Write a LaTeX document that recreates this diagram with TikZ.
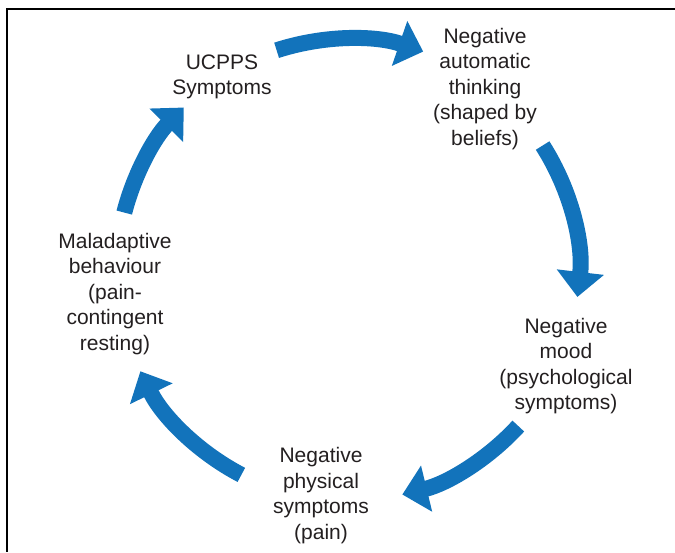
\documentclass[tikz,border=0pt]{standalone}
\usepackage{fontspec}
\setmainfont{Liberation Sans}
\usetikzlibrary{arrows.meta}
\definecolor{cycb}{RGB}{18, 115, 187}
\definecolor{txtk}{RGB}{35, 31, 32}

\begin{document}
\begin{tikzpicture}[x=1pt, y=1pt,
        every node/.style={font=\fontsize{21pt}{25.5pt}\selectfont, text=txtk, align=center, inner sep=0pt},
        cyc/.style={line width=16pt, draw=cycb, -{Triangle[width=46pt, length=25pt]}}]
        \useasboundingbox (0, 0) rectangle (675, 552);
        \draw[line width=1.2pt] (675, 543) -- (7, 543) -- (7, 0);
        \coordinate (hub) at (348, 282);
        \node (ucpps) at (222, 475) {UCPPS\\Symptoms};
        \node (thinking) at (485, 463) {Negative\\automatic\\thinking\\(shaped by\\beliefs)};
        \node (mood) at (566, 186) {Negative\\mood\\(psychological\\symptoms)};
        \node (physical) at (321, 56.5) {Negative\\physical\\symptoms\\(pain)};
        \node (maladaptive) at (115, 258) {Maladaptive\\behaviour\\(pain-\\contingent\\resting)};
        \draw[cyc] ([shift={(108:231)}]hub) arc[start angle=108, end angle=71, radius=231];
        \draw[cyc] ([shift={(32.6:231)}]hub) arc[start angle=32.6, end angle=-6.7, radius=231];
        \draw[cyc] ([shift={(-42.5:231)}]hub) arc[start angle=-42.5, end angle=-76.4, radius=231];
        \draw[cyc] ([shift={(242.5:231)}]hub) arc[start angle=242.5, end angle=206, radius=231];
        \draw[cyc] ([shift={(165.6:231)}]hub) arc[start angle=165.6, end angle=135.3, radius=231];
    \end{tikzpicture}
\end{document}
